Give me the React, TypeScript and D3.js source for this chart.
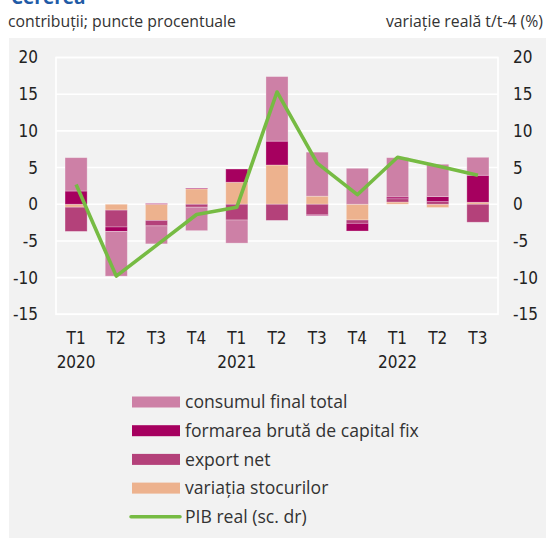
import React from "react";
import * as d3 from "d3";

const categories = ["T1", "T2", "T3", "T4", "T1", "T2", "T3", "T4", "T1", "T2", "T3"];
const years = ["2020", "", "", "", "2021", "", "", "", "2022", "", ""];
const consum = [4.55, -6.1, -2.45, -3.2, -3.15, 8.8, 6.0, 4.9, 5.35, 4.41, 2.45];
const capital = [1.8, -0.6, 0.1, 0.1, 1.8, 3.25, -0.1, -1.05, 0.25, 0.68, 3.68];
const exportNet = [-3.3, -2.3, -0.75, -0.4, -2.15, -2.2, -1.45, -0.45, 0.45, 0.36, -2.45];
const stocuri = [-0.4, -0.8, -2.2, 2.1, 3.0, 5.35, 1.1, -2.15, 0.3, -0.45, 0.27];
const pib = [2.7, -9.8, -5.6, -1.4, -0.4, 15.3, 5.6, 1.3, 6.4, 5.2, 3.95];
const yTicks = [20, 15, 10, 5, 0, -5, -10, -15];

const seriesNames = ["consumul final total", "formarea brută de capital fix", "export net", "variația stocurilor"];
const seriesKeys = ["consum", "capital", "export", "stocuri"];
const colors: Record<string, string> = {
  consum: "#cd80a6",
  capital: "#a6005f",
  export: "#b4417a",
  stocuri: "#edb28e",
};
const green = "#76bb43";

export default function App() {
  const W = 546, H = 538;
  const left = 56, right = 498;
  const x = d3.scaleBand<number>().domain(d3.range(categories.length)).range([left, right]).paddingInner(0.45).paddingOuter(0.225);
  const y = d3.scaleLinear().domain([-15, 20]).range([314.3, 57.5]);

  const rows = categories.map((_, i) => ({
    consum: consum[i],
    capital: capital[i],
    export: exportNet[i],
    stocuri: stocuri[i],
  }));
  const stack = d3.stack<any>().keys(["stocuri", "export", "capital", "consum"]).offset(d3.stackOffsetDiverging);
  const layers = stack(rows);

  const line = d3.line<number>().x((_, i) => (x(i) as number) + x.bandwidth() / 2).y((d) => y(d));

  const tickFont = "'Liberation Sans Narrow', 'DejaVu Sans Condensed', 'Roboto', sans-serif";
  const textFont = "'Open Sans', 'Noto Sans', sans-serif";

  return (
    <svg width={W} height={H} style={{ position: "absolute", left: 0, top: 0 }}>
      <rect x={9} y={38} width={W - 9} height={H - 38} fill="#f2f2f2" />
      <text x={11} y={4} fontFamily={textFont} fontWeight={700} fontSize={19} fill="#1f5ba6">Cererea</text>
      <text x={8} y={27} fontFamily={textFont} fontSize={15.8} fill="#333">contribuții; puncte procentuale</text>
      <text x={543} y={27} fontFamily={textFont} fontSize={15.8} fill="#333" textAnchor="end">variație reală t/t-4 (%)</text>

      {yTicks.map((t) => (
        <line key={"g" + t} x1={left} x2={right} y1={y(t)} y2={y(t)} stroke="#fff" strokeWidth={1.6} />
      ))}
      <rect x={left} y={y(20)} width={right - left} height={y(-15) - y(20)} fill="none" stroke="#fff" strokeWidth={1.6} />

      {layers.map((layer) => (
        <g key={layer.key} fill={colors[layer.key]}>
          {layer.map((d, i) => {
            const y0 = y(d[0]), y1 = y(d[1]);
            const h = Math.abs(y0 - y1);
            if (h < 0.01) return null;
            return (
              <rect key={i} x={x(i)} y={Math.min(y0, y1)} width={x.bandwidth()} height={h}
                stroke="rgba(255,255,255,0.35)" strokeWidth={0.8} />
            );
          })}
        </g>
      ))}

      <path d={line(pib) || ""} fill="none" stroke={green} strokeWidth={3.6} strokeLinejoin="round" />

      {yTicks.map((t) => (
        <text key={"l" + t} x={38} y={y(t)} dy="0.35em" textAnchor="end" fontFamily={tickFont} fontSize={17} fill="#222">{t}</text>
      ))}
      {yTicks.map((t) => (
        <text key={"r" + t} x={513} y={y(t)} dy="0.35em" textAnchor="start" fontFamily={tickFont} fontSize={17} fill="#222">{t}</text>
      ))}
      {categories.map((c, i) => (
        <text key={"c" + i} x={(x(i) as number) + x.bandwidth() / 2} y={344} textAnchor="middle" fontFamily={tickFont} fontSize={17} fill="#222">{c}</text>
      ))}
      {years.map((yr, i) => yr ? (
        <text key={"y" + i} x={(x(i) as number) + x.bandwidth() / 2} y={368} textAnchor="middle" fontFamily={tickFont} fontSize={17} fill="#222">{yr}</text>
      ) : null)}

      {seriesKeys.map((k, i) => (
        <g key={"lg" + k}>
          <rect x={132} y={402 + i * 28.7 - 5.5} width={48} height={11} fill={colors[k]} />
          <text x={185} y={402 + i * 28.7} dy="0.35em" fontFamily={textFont} fontSize={17.6} fill="#333">{seriesNames[i]}</text>
        </g>
      ))}
      <line x1={131} x2={180} y1={402 + 4 * 28.7} y2={402 + 4 * 28.7} stroke={green} strokeWidth={3.5} strokeLinecap="round" />
      <text x={185} y={402 + 4 * 28.7} dy="0.35em" fontFamily={textFont} fontSize={17.6} fill="#333">PIB real (sc. dr)</text>
    </svg>
  );
}
